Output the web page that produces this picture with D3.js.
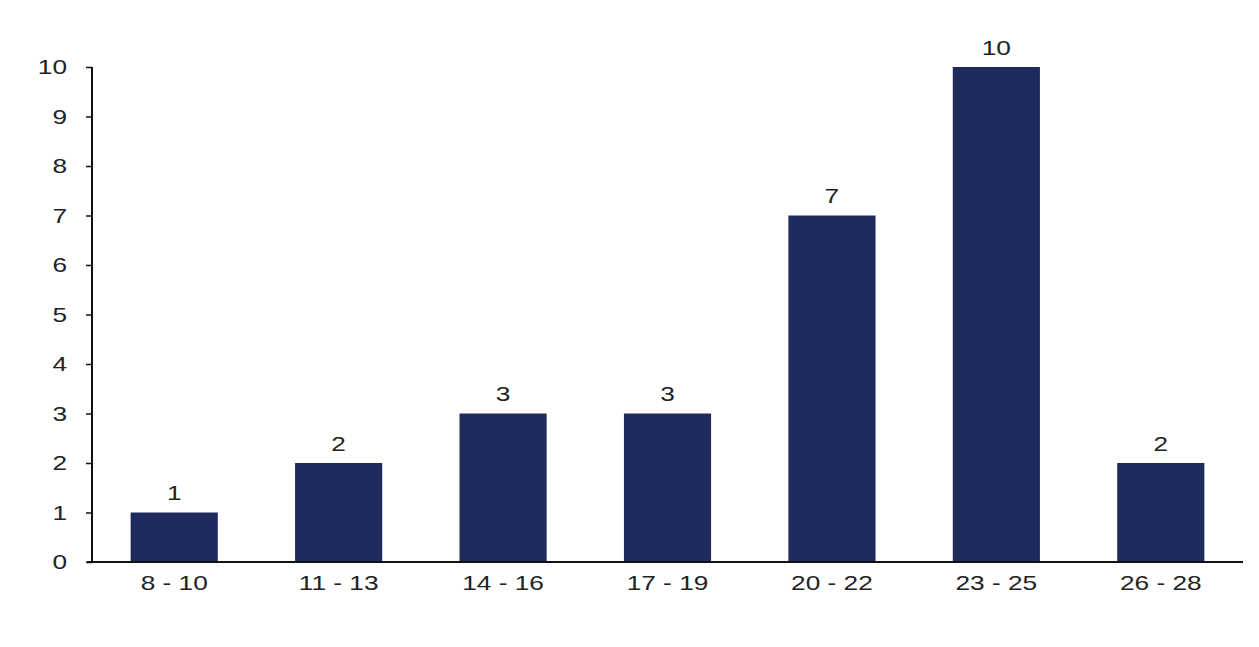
<!DOCTYPE html>
<html>
<head>
<meta charset="utf-8">
<script src="https://cdn.jsdelivr.net/npm/d3@7"></script>
<style>
  html, body { margin: 0; padding: 0; background: #fff; }
  svg { display: block; }
  text { font-family: "Liberation Sans", Arial, sans-serif; fill: #222; }
  /* wide lettering for all chart text */
  .wide { transform-box: fill-box; transform-origin: center; transform: scaleX(1.25); }
  .wide-right { transform-box: fill-box; transform-origin: right center; transform: scaleX(1.25); }
</style>
</head>
<body>
<svg id="chart" width="1259" height="647"></svg>
<script>
// Age groups and their counts
const categories = ["8 - 10", "11 - 13", "14 - 16", "17 - 19", "20 - 22", "23 - 25", "26 - 28"];
const counts = [1, 2, 3, 3, 7, 10, 2];
const yTicks = [0, 1, 2, 3, 4, 5, 6, 7, 8, 9, 10];

const svg = d3.select("#chart");
const margin = { left: 92, right: 16, top: 67, bottom: 85 };
const W = 1259, H = 647;
const fontSize = 21;

const x = d3.scaleBand()
  .domain(categories)
  .range([margin.left, W - margin.right])
  .paddingInner(0.47)
  .paddingOuter(0.235);

const y = d3.scaleLinear()
  .domain([0, 10])
  .range([H - margin.bottom, margin.top]);

// Bars
svg.append("g")
  .selectAll("rect")
  .data(counts)
  .join("rect")
  .attr("x", (d, i) => x(categories[i]))
  .attr("y", d => y(d))
  .attr("width", x.bandwidth())
  .attr("height", d => y(0) - y(d))
  .attr("fill", "#1f2b5c");

// Value labels above bars
svg.append("g")
  .selectAll("text")
  .data(counts)
  .join("text")
  .attr("class", "wide")
  .attr("x", (d, i) => x(categories[i]) + x.bandwidth() / 2)
  .attr("y", d => y(d) - 12)
  .attr("text-anchor", "middle")
  .attr("font-size", fontSize)
  .text(d => d);

// Y axis
const yAxis = svg.append("g")
  .attr("transform", `translate(${margin.left},0)`)
  .call(d3.axisLeft(y).tickValues(yTicks).tickSize(6).tickPadding(19).tickFormat(d3.format("d")));
yAxis.select(".domain").attr("stroke", "#111").attr("stroke-width", 2).attr("d", `M0,${y(10)}V${y(0)}`);
yAxis.selectAll(".tick line").attr("stroke", "#111").attr("stroke-width", 1.5);
yAxis.selectAll(".tick text").attr("font-size", fontSize).attr("fill", "#222")
  .attr("class", "wide-right")
  .attr("font-family", "'Liberation Sans', Arial, sans-serif");

// X axis
const xAxis = svg.append("g")
  .attr("transform", `translate(0,${y(0)})`)
  .call(d3.axisBottom(x).tickSize(0).tickPadding(13));
xAxis.select(".domain").attr("stroke", "#111").attr("stroke-width", 2)
  .attr("d", `M${margin.left - 5},0H${W - margin.right}`);
xAxis.selectAll(".tick text").attr("font-size", fontSize).attr("fill", "#222")
  .attr("class", "wide")
  .attr("font-family", "'Liberation Sans', Arial, sans-serif");
</script>
</body>
</html>
